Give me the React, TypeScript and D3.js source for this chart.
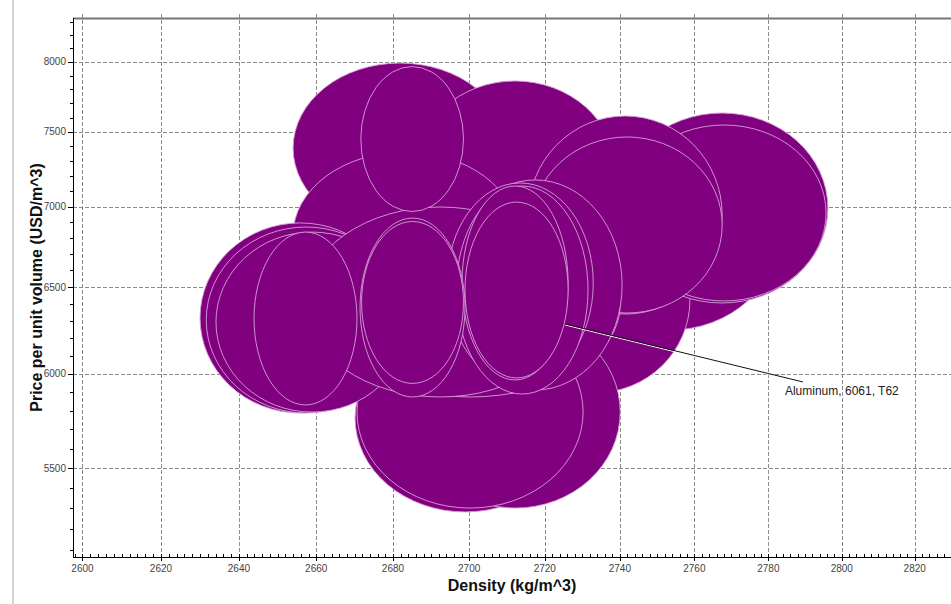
import React, { useEffect, useRef } from 'react';
import * as d3 from 'd3';

// Property ranges for each material bubble, listed back to front (draw order)
const densityLow = [
  2649.4, 2654.0, 2685.8, 2654.0, 2724.1, 2708.2, 2739.0, 2740.6, 2715.6, 2716.6,
  2670.1, 2684.5, 2670.6, 2630.0, 2631.6, 2634.1, 2661.0, 2657.1, 2694.5, 2694.2,
  2696.6, 2698.1, 2698.9, 2671.4, 2671.8, 2643.9, 2671.6,
];
const densityHigh = [
  2706.8, 2710.0, 2738.7, 2712.7, 2783.2, 2758.8, 2796.2, 2795.7, 2767.5, 2767.5,
  2728.1, 2740.1, 2730.2, 2681.9, 2683.4, 2684.0, 2740.1, 2728.1, 2740.6, 2732.9,
  2731.5, 2726.2, 2726.2, 2698.9, 2698.5, 2670.6, 2698.5,
];
const priceLow = [
  5857, 6832, 6670, 6317, 6247, 5895, 6405, 6417, 6340, 6346,
  5282, 5301, 5301, 5787, 5787, 5792, 5873, 5873, 5911, 5949,
  5889, 5966, 5977, 5873, 5947, 5830, 6969,
];
const priceHigh = [
  6915, 7992, 7861, 7362, 7513, 6998, 7632, 7548, 7611, 7465,
  6282, 6329, 6329, 6896, 6870, 6838, 6959, 6998, 7175, 7155,
  7135, 7135, 7030, 6927, 6905, 6838, 7966,
];

// annotation
const labelText = 'Aluminum, 6061, T62';
const labelAnchor = [2725.4, 6282];
const labelEnd = [2789.4, 5955];

const xMajorTicks = d3.range(2600, 2821, 20);
const yMajorTicks = [5500, 6000, 6500, 7000, 7500, 8000];

const W = 951;
const H = 604;
const FONT = "Arial, 'Liberation Sans', sans-serif";

export default function App() {
  const svgRef = useRef<SVGSVGElement | null>(null);

  useEffect(() => {
    if (!svgRef.current) return;
    const svg = d3.select(svgRef.current);
    svg.selectAll('*').remove();

    const left = 73, top = 18, bottom = 557, right = W;

    // both axes are logarithmic
    const x = d3.scaleLog().domain([2597.6, 2830.0]).range([left, right]);
    const y = d3.scaleLog().domain([5067, 8331]).range([bottom, top]);

    // grey strip at far left
    svg.append('rect').attr('x', 12).attr('y', 0).attr('width', 2).attr('height', H).attr('fill', '#d4d4d4');

    // grid
    const grid = svg.append('g').attr('stroke', '#8c8c8c').attr('stroke-width', 1).attr('stroke-dasharray', '4,2');
    xMajorTicks.forEach((t) => {
      const px = Math.round(x(t)) + 0.5;
      grid.append('line').attr('x1', px).attr('x2', px).attr('y1', top - 4).attr('y2', bottom);
    });
    yMajorTicks.forEach((t) => {
      const py = Math.round(y(t)) + 0.5;
      grid.append('line').attr('x1', left).attr('x2', right).attr('y1', py).attr('y2', py);
    });

    // bubbles
    const items = densityLow.map((d, i) => ({
      cx: (x(d) + x(densityHigh[i])) / 2,
      rx: (x(densityHigh[i]) - x(d)) / 2,
      cy: (y(priceLow[i]) + y(priceHigh[i])) / 2,
      ry: (y(priceLow[i]) - y(priceHigh[i])) / 2,
    }));
    svg.append('g')
      .selectAll('ellipse')
      .data(items)
      .join('ellipse')
      .attr('cx', (d) => d.cx)
      .attr('cy', (d) => d.cy)
      .attr('rx', (d) => d.rx)
      .attr('ry', (d) => d.ry)
      .attr('fill', '#800080')
      .attr('stroke', '#d6a3d6')
      .attr('stroke-width', 0.9);

    // frame
    svg.append('line').attr('x1', left).attr('x2', right).attr('y1', top + 0.5).attr('y2', top + 0.5)
      .attr('stroke', '#777').attr('stroke-width', 2);
    svg.append('line').attr('x1', left + 0.5).attr('x2', left + 0.5).attr('y1', top).attr('y2', bottom)
      .attr('stroke', '#000').attr('stroke-width', 1);
    svg.append('line').attr('x1', left).attr('x2', right).attr('y1', bottom + 0.5).attr('y2', bottom + 0.5)
      .attr('stroke', '#000').attr('stroke-width', 1);

    // y ticks (minor every 100)
    const yt = svg.append('g').attr('stroke', '#000').attr('stroke-width', 1);
    d3.range(5100, 8400, 100).forEach((t) => {
      const py = Math.round(y(t)) + 0.5;
      if (py < top || py > bottom) return;
      const major = yMajorTicks.includes(t);
      yt.append('line').attr('x1', left - (major ? 5 : 3)).attr('x2', left).attr('y1', py).attr('y2', py);
    });
    svg.append('g').selectAll('text').data(yMajorTicks).join('text')
      .attr('x', left - 7).attr('y', (d) => y(d)).attr('dy', '0.35em')
      .attr('text-anchor', 'end').attr('font-family', FONT).attr('font-size', 10).attr('fill', '#444')
      .text((d) => String(d));

    // x ticks (minor every 2)
    const xt = svg.append('g').attr('stroke', '#000').attr('stroke-width', 1);
    d3.range(2598, 2830, 2).forEach((t) => {
      const px = Math.round(x(t)) + 0.5;
      if (px < left || px > right) return;
      const major = t % 20 === 0;
      xt.append('line').attr('x1', px).attr('x2', px)
        .attr('y1', bottom - 3).attr('y2', bottom + (major ? 4 : 0));
    });
    svg.append('g').selectAll('text').data(xMajorTicks).join('text')
      .attr('x', (d) => x(d)).attr('y', bottom + 15)
      .attr('text-anchor', 'middle').attr('font-family', FONT).attr('font-size', 10).attr('fill', '#444')
      .text((d) => String(d));

    // axis titles
    svg.append('text').attr('x', (left + right) / 2).attr('y', 591)
      .attr('text-anchor', 'middle').attr('font-family', FONT).attr('font-size', 16).attr('font-weight', 'bold')
      .attr('fill', '#111').text('Density (kg/m^3)');
    svg.append('text').attr('transform', 'translate(42,' + (top + bottom) / 2 + ') rotate(-90)')
      .attr('text-anchor', 'middle').attr('font-family', FONT).attr('font-size', 16).attr('font-weight', 'bold')
      .attr('fill', '#111').text('Price per unit volume (USD/m^3)');

    // annotation leader + label
    const ax = x(labelAnchor[0]), ay = y(labelAnchor[1]);
    const ex = x(labelEnd[0]), ey = y(labelEnd[1]);
    svg.append('line').attr('x1', ax).attr('y1', ay + 1).attr('x2', ex).attr('y2', ey + 1)
      .attr('stroke', '#fff').attr('stroke-width', 1);
    svg.append('line').attr('x1', ax).attr('y1', ay).attr('x2', ex).attr('y2', ey)
      .attr('stroke', '#111').attr('stroke-width', 1);
    svg.append('text').attr('x', ex - 18).attr('y', ey + 13)
      .attr('font-family', FONT).attr('font-size', 12).attr('fill', '#222').text(labelText);
  }, []);

  return (
    <svg
      ref={svgRef}
      width={W}
      height={H}
      style={{ position: 'absolute', left: 0, top: 0, background: '#fff', display: 'block' }}
    />
  );
}
